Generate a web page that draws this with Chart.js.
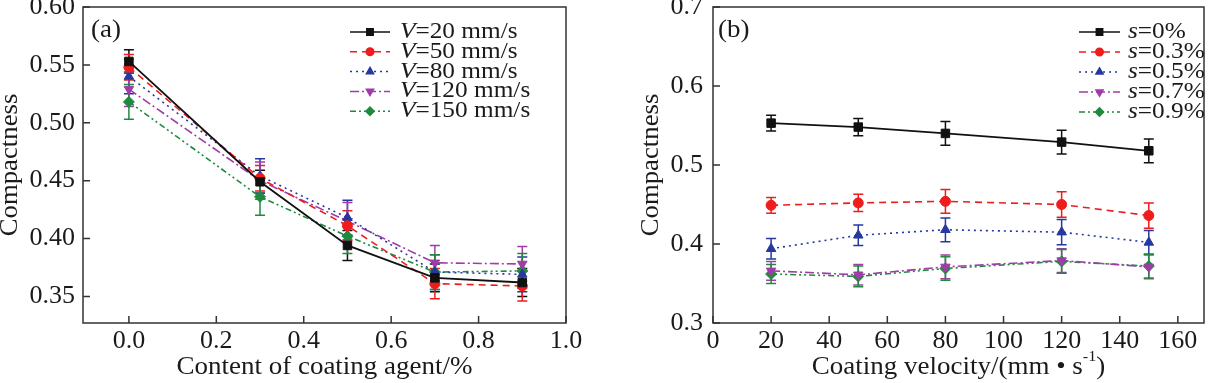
<!DOCTYPE html>
<html>
<head>
<meta charset="utf-8">
<script src="https://cdn.jsdelivr.net/npm/chart.js@4/dist/chart.umd.min.js"></script>
<style>
  body { margin: 0; background: #fff; }
  #wrapA { position: absolute; left: 0; top: 0; width: 600px; height: 383px; }
  #wrapB { position: absolute; left: 600px; top: 0; width: 611px; height: 383px; }
</style>
</head>
<body>
<div id="wrapA"><canvas id="chartA" width="600" height="383"></canvas></div>
<div id="wrapB"><canvas id="chartB" width="611" height="383"></canvas></div>
<script>
// panel (a): compactness vs content of coating agent, one line per coating velocity
const contentX = [0, 0.3, 0.5, 0.7, 0.9];
const v20 = [0.553, 0.449, 0.394, 0.366, 0.362];
const v50 = [0.548, 0.452, 0.411, 0.361, 0.359];
const v80 = [0.540, 0.454, 0.418, 0.371, 0.369];
const v120 = [0.529, 0.450, 0.415, 0.379, 0.378];
const v150 = [0.518, 0.436, 0.402, 0.371, 0.372];
const errV20 = [0.010, 0.010, 0.013, 0.012, 0.012];
const errV50 = [0.011, 0.011, 0.013, 0.013, 0.013];
const errV80 = [0.015, 0.015, 0.015, 0.015, 0.015];
const errV120 = [0.015, 0.016, 0.016, 0.015, 0.015];
const errV150 = [0.015, 0.016, 0.015, 0.015, 0.015];
const legendA = ['=20 mm/s', '=50 mm/s', '=80 mm/s', '=120 mm/s', '=150 mm/s'];
const xTicksA = [0, 0.2, 0.4, 0.6, 0.8, 1.0];
const yTicksA = [0.35, 0.40, 0.45, 0.50, 0.55, 0.60];

// panel (b): compactness vs coating velocity, one line per content
const velocityX = [20, 50, 80, 120, 150];
const s0 = [0.553, 0.548, 0.540, 0.529, 0.518];
const s03 = [0.449, 0.452, 0.454, 0.450, 0.436];
const s05 = [0.394, 0.411, 0.418, 0.415, 0.402];
const s07 = [0.366, 0.361, 0.371, 0.379, 0.371];
const s09 = [0.362, 0.359, 0.369, 0.378, 0.372];
const errS0 = [0.010, 0.011, 0.015, 0.015, 0.015];
const errS03 = [0.010, 0.011, 0.015, 0.016, 0.016];
const errS05 = [0.013, 0.013, 0.015, 0.016, 0.015];
const errS07 = [0.012, 0.013, 0.015, 0.015, 0.015];
const errS09 = [0.012, 0.013, 0.015, 0.015, 0.015];
const legendB = ['=0%', '=0.3%', '=0.5%', '=0.7%', '=0.9%'];
const xTicksB = [0, 20, 40, 60, 80, 100, 120, 140, 160];
const yTicksB = [0.3, 0.4, 0.5, 0.6, 0.7];

const colors = ['#111111', '#ee1c1c', '#2638a0', '#a03ca8', '#1f8a3e'];
const dashes = [[], [7, 5], [2, 4], [9, 3, 2, 3], [6, 3, 2, 3, 2, 3]];
const shapes = ['rect', 'circle', 'triangle', 'triangle', 'rectRot'];
const rotations = [0, 0, 0, 180, 0];
const radii = [6, 5, 5.5, 5.5, 5.5];

const FAM = "'Liberation Serif', 'Times New Roman', serif";
const INK = '#1a1a1a';

function drawRich(ctx, parts, x, y, size, sx, align) {
  const fontOf = p => (p.italic ? 'italic ' : '') + (p.sup ? Math.round(size * 0.6) : size) + 'px ' + FAM;
  const widths = parts.map(p => { ctx.font = fontOf(p); return ctx.measureText(p.t).width; });
  const total = widths.reduce((a, b) => a + b, 0) * sx;
  let cx = align === 'center' ? x - total / 2 : x;
  ctx.save();
  ctx.fillStyle = INK;
  ctx.textBaseline = 'middle';
  ctx.textAlign = 'left';
  parts.forEach((p, i) => {
    ctx.font = fontOf(p);
    ctx.save();
    ctx.translate(cx, p.sup ? y - size * 0.38 : y);
    ctx.scale(sx, 1);
    ctx.fillText(p.t, 0, 0);
    ctx.restore();
    cx += widths[i] * sx;
  });
  ctx.restore();
}

const decor = {
  id: 'decor',
  beforeDatasetsDraw(chart) {
    const ctx = chart.ctx;
    const ys = chart.scales.y;
    chart.data.datasets.forEach((ds, i) => {
      const meta = chart.getDatasetMeta(i);
      ctx.save();
      ctx.strokeStyle = ds.borderColor;
      ctx.lineWidth = 1.5;
      meta.data.forEach((pt, j) => {
        const v = ds.data[j].y, e = ds.errs[j];
        const t = ys.getPixelForValue(v + e), b = ys.getPixelForValue(v - e);
        ctx.beginPath();
        ctx.moveTo(pt.x, t); ctx.lineTo(pt.x, b);
        ctx.moveTo(pt.x - 5, t); ctx.lineTo(pt.x + 5, t);
        ctx.moveTo(pt.x - 5, b); ctx.lineTo(pt.x + 5, b);
        ctx.stroke();
      });
      ctx.restore();
    });
  },
  afterDraw(chart, args, o) {
    const ctx = chart.ctx;
    const a = chart.chartArea;
    const xs = chart.scales.x, ys = chart.scales.y;
    ctx.save();
    // frame
    ctx.strokeStyle = '#333';
    ctx.lineWidth = 1.5;
    ctx.strokeRect(a.left, a.top, a.right - a.left, a.bottom - a.top);
    // inward ticks
    ctx.beginPath();
    xs.ticks.forEach(t => {
      const px = xs.getPixelForValue(t.value);
      ctx.moveTo(px, a.bottom); ctx.lineTo(px, a.bottom - 7);
    });
    ys.ticks.forEach(t => {
      const py = ys.getPixelForValue(t.value);
      ctx.moveTo(a.left, py); ctx.lineTo(a.left + 7, py);
    });
    ctx.stroke();
    ctx.restore();

    // panel label
    drawRich(ctx, [{ t: o.panel }], o.panelX, 30, 25, 1.08, 'left');

    // legend
    chart.data.datasets.forEach((ds, i) => {
      const y = o.legTop + i * o.legStep;
      ctx.save();
      ctx.strokeStyle = ds.borderColor;
      ctx.lineWidth = 1.5;
      ctx.setLineDash(ds.borderDash);
      ctx.beginPath();
      ctx.moveTo(o.legX0, y); ctx.lineTo(o.legX1, y);
      ctx.stroke();
      ctx.setLineDash([]);
      ctx.fillStyle = ds.borderColor;
      Chart.helpers.drawPoint(ctx, {
        pointStyle: ds.pointStyle, rotation: ds.pointRotation,
        radius: ds.pointRadius * 0.75, borderWidth: 1
      }, (o.legX0 + o.legX1) / 2, y);
      ctx.restore();
      drawRich(ctx, [{ t: o.legVar, italic: true }, { t: o.legText[i] }], o.legTextX, y, 23, 1.1, 'left');
    });

    // axis titles
    drawRich(ctx, o.xTitle, (a.left + a.right) / 2, 367, 25, 1.08, 'center');
    ctx.save();
    ctx.translate(o.yTitleX, (a.top + a.bottom) / 2);
    ctx.rotate(-Math.PI / 2);
    drawRich(ctx, [{ t: 'Compactness' }], 0, 0, 25, 1.07, 'center');
    ctx.restore();
  }
};

function makeDatasets(xs, series, errs) {
  return series.map((ys, i) => ({
    data: xs.map((x, j) => ({ x: x, y: ys[j] })),
    errs: errs[i],
    borderColor: colors[i],
    backgroundColor: colors[i],
    borderWidth: i === 0 ? 1.8 : 1.6,
    borderDash: dashes[i],
    pointStyle: shapes[i],
    pointRotation: rotations[i],
    pointRadius: radii[i],
    pointBorderWidth: 1,
    pointBackgroundColor: colors[i],
    pointBorderColor: colors[i],
    tension: 0
  }));
}

function makePanel(id, cfg) {
  const tickFont = { family: FAM, size: 26 };
  new Chart(document.getElementById(id).getContext('2d'), {
    type: 'line',
    data: { datasets: makeDatasets(cfg.xs, cfg.series, cfg.errs) },
    plugins: [decor],
    options: {
      responsive: false,
      animation: false,
      layout: { padding: { left: 0, right: cfg.padRight, top: 7, bottom: 0 } },
      plugins: {
        legend: { display: false },
        tooltip: { enabled: false },
        decor: cfg.decor
      },
      scales: {
        x: {
          type: 'linear',
          min: cfg.xMin, max: cfg.xMax,
          grid: { display: false, drawTicks: false },
          border: { display: false },
          afterBuildTicks: s => { s.ticks = cfg.xTicks.map(v => ({ value: v })); },
          afterFit: s => { s.height = 60; s.paddingLeft = 0; s.paddingRight = 0; },
          ticks: {
            font: tickFont, color: INK, padding: 3,
            maxRotation: 0, autoSkip: false,
            callback: cfg.xFmt
          }
        },
        y: {
          min: cfg.yMin, max: cfg.yMax,
          grid: { display: false, drawTicks: false },
          border: { display: false },
          afterBuildTicks: s => { s.ticks = cfg.yTicks.map(v => ({ value: v })); },
          afterFit: s => { s.width = cfg.yWidth; s.paddingTop = 0; s.paddingBottom = 0; },
          ticks: {
            font: tickFont, color: INK, padding: cfg.yPad,
            autoSkip: false,
            callback: cfg.yFmt
          }
        }
      }
    }
  });
}

makePanel('chartA', {
  xs: contentX,
  series: [v20, v50, v80, v120, v150],
  errs: [errV20, errV50, errV80, errV120, errV150],
  xMin: -0.105, xMax: 1.0, yMin: 0.327, yMax: 0.60,
  xTicks: xTicksA, yTicks: yTicksA,
  xFmt: v => v.toFixed(1), yFmt: v => v.toFixed(2),
  padRight: 34, yWidth: 83, yPad: 8,
  decor: {
    panel: '(a)', panelX: 91,
    legTop: 32, legStep: 19.8, legX0: 350, legX1: 390, legTextX: 400,
    legVar: 'V', legText: legendA,
    xTitle: [{ t: 'Content of coating agent/%' }],
    yTitleX: 10
  }
});

makePanel('chartB', {
  xs: velocityX,
  series: [s0, s03, s05, s07, s09],
  errs: [errS0, errS03, errS05, errS07, errS09],
  xMin: 0, xMax: 169, yMin: 0.3, yMax: 0.7,
  xTicks: xTicksB, yTicks: yTicksB,
  xFmt: v => String(v), yFmt: v => v.toFixed(1),
  padRight: 2, yWidth: 113, yPad: 10,
  decor: {
    panel: '(b)', panelX: 118,
    legTop: 32, legStep: 20, legX0: 479, legX1: 520, legTextX: 528,
    legVar: 's', legText: legendB,
    xTitle: [{ t: 'Coating velocity/(mm \u2022 s' }, { t: '-1', sup: true }, { t: ')' }],
    yTitleX: 51
  }
});
</script>
</body>
</html>
